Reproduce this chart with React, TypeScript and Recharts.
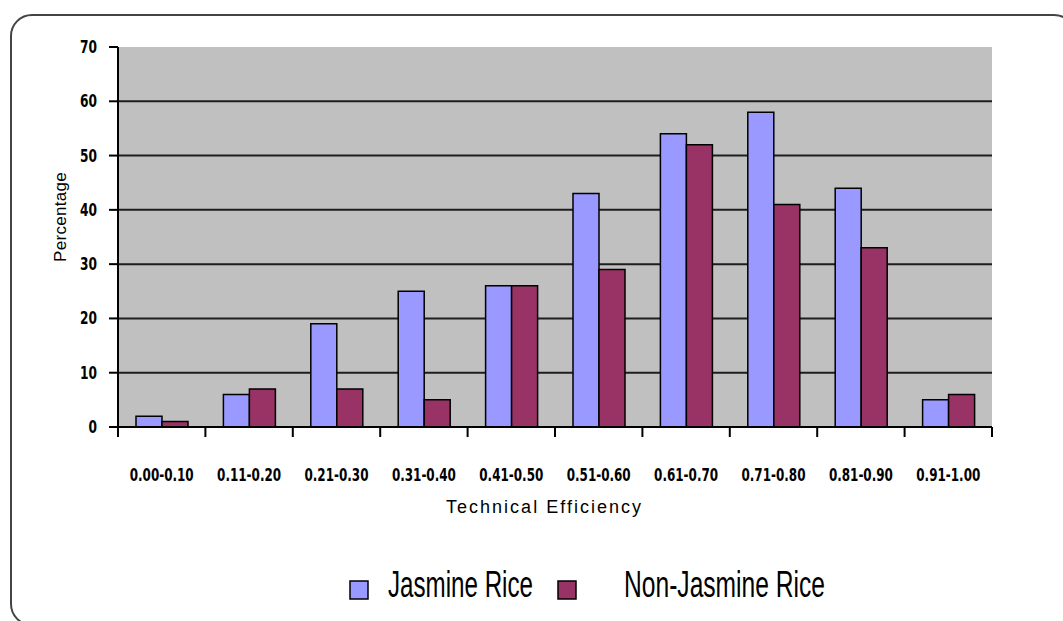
import { BarChart, Bar, XAxis, YAxis, CartesianGrid, Label } from 'recharts';

const categories = [
  '0.00-0.10', '0.11-0.20', '0.21-0.30', '0.31-0.40', '0.41-0.50',
  '0.51-0.60', '0.61-0.70', '0.71-0.80', '0.81-0.90', '0.91-1.00'
];
const jasmine = [2, 6, 19, 25, 26, 43, 54, 58, 44, 5];
const nonJasmine = [1, 7, 7, 5, 26, 29, 52, 41, 33, 6];
const yTicks = [0, 10, 20, 30, 40, 50, 60, 70];
const gridValues = [10, 20, 30, 40, 50, 60];

const series = [
  { key: 'jasmine', name: 'Jasmine Rice', color: '#9999ff' },
  { key: 'nonJasmine', name: 'Non-Jasmine Rice', color: '#993366' }
];

const data = categories.map((range, i) => ({
  range,
  jasmine: jasmine[i],
  nonJasmine: nonJasmine[i]
}));

const tickFont = "'DejaVu Sans Condensed', 'DejaVu Sans', sans-serif";
const labelFont = "'Liberation Sans', Arial, sans-serif";

const XTick = (props: any) => {
  const { x, y, payload, index, width, visibleTicksCount } = props;
  const n = visibleTicksCount || categories.length;
  const band = (width || 874) / n;
  const left = x - band / 2;
  return (
    <g>
      <line x1={left} x2={left} y1={y} y2={y + 10} stroke="#000" strokeWidth={2} />
      {index === n - 1 && (
        <line x1={x + band / 2} x2={x + band / 2} y1={y} y2={y + 10} stroke="#000" strokeWidth={2} />
      )}
      <text
        x={x - 32}
        y={y + 54}
        fontFamily={tickFont}
        fontWeight="bold"
        fontSize={17}
        textLength={64}
        lengthAdjust="spacingAndGlyphs"
        fill="#000"
      >
        {payload.value}
      </text>
    </g>
  );
};

const YTick = (props: any) => {
  const { x, y, payload } = props;
  const w = String(payload.value).length * 8.5;
  return (
    <text
      x={x - w}
      y={y + 6}
      fontFamily={tickFont}
      fontWeight="bold"
      fontSize={17}
      textLength={w}
      lengthAdjust="spacingAndGlyphs"
      fill="#000"
    >
      {payload.value}
    </text>
  );
};

export default function App() {
  return (
    <div style={{ position: 'absolute', left: 0, top: 0, width: 1063, height: 621, overflow: 'hidden', background: '#fff' }}>
      <div
        style={{
          position: 'absolute',
          left: 10,
          top: 14,
          width: 1062,
          height: 608,
          border: '2px solid #444',
          borderRadius: 22
        }}
      />
      <BarChart
        width={1063}
        height={621}
        data={data}
        margin={{ top: 47, right: 71, bottom: 114, left: 0 }}
        barGap={0}
        barCategoryGap={18}
        style={{ position: 'absolute', left: 0, top: 0 }}
      >
        <CartesianGrid
          vertical={false}
          horizontalValues={gridValues}
          fill="#c0c0c0"
          stroke="#1e1e1e"
          strokeWidth={2}
          strokeOpacity={1}
        />
        <XAxis
          dataKey="range"
          height={80}
          tickLine={false}
          tickSize={0}
          tickMargin={0}
          axisLine={{ stroke: '#000', strokeWidth: 2 }}
          tick={<XTick />}
          interval={0}
        >
          <Label
            content={() => (
              <text
                x={446}
                y={513}
                fontFamily={labelFont}
                fontSize={18}
                textLength={195}
                lengthAdjust="spacing"
                fill="#000"
              >
                Technical Efficiency
              </text>
            )}
          />
        </XAxis>
        <YAxis
          width={118}
          domain={[0, 70]}
          ticks={yTicks}
          interval={0}
          tickSize={9}
          tickMargin={12}
          tickLine={{ stroke: '#000', strokeWidth: 2 }}
          axisLine={{ stroke: '#000', strokeWidth: 2 }}
          tick={<YTick />}
        >
          <Label
            content={() => (
              <text
                x={0}
                y={0}
                transform="translate(66 217) rotate(-90)"
                textAnchor="middle"
                fontFamily={labelFont}
                fontSize={17}
                letterSpacing={0.3}
                fill="#000"
              >
                Percentage
              </text>
            )}
          />
        </YAxis>
        {series.map((s) => (
          <Bar
            key={s.key}
            dataKey={s.key}
            name={s.name}
            fill={s.color}
            stroke="#000"
            strokeWidth={1.5}
            isAnimationActive={false}
          />
        ))}
      </BarChart>
      <svg width={1063} height={621} style={{ position: 'absolute', left: 0, top: 0, pointerEvents: 'none' }}>
        {series.map((s, i) => {
          const boxX = i === 0 ? 350 : 558;
          const textX = i === 0 ? 388 : 624;
          const textW = i === 0 ? 145 : 201;
          return (
            <g key={s.key}>
              <rect x={boxX} y={581} width={18} height={18} fill={s.color} stroke="#000" strokeWidth={1.5} />
              <text
                x={textX}
                y={597}
                fontFamily={labelFont}
                fontSize={37}
                textLength={textW}
                lengthAdjust="spacingAndGlyphs"
                fill="#000"
              >
                {s.name}
              </text>
            </g>
          );
        })}
      </svg>
    </div>
  );
}
